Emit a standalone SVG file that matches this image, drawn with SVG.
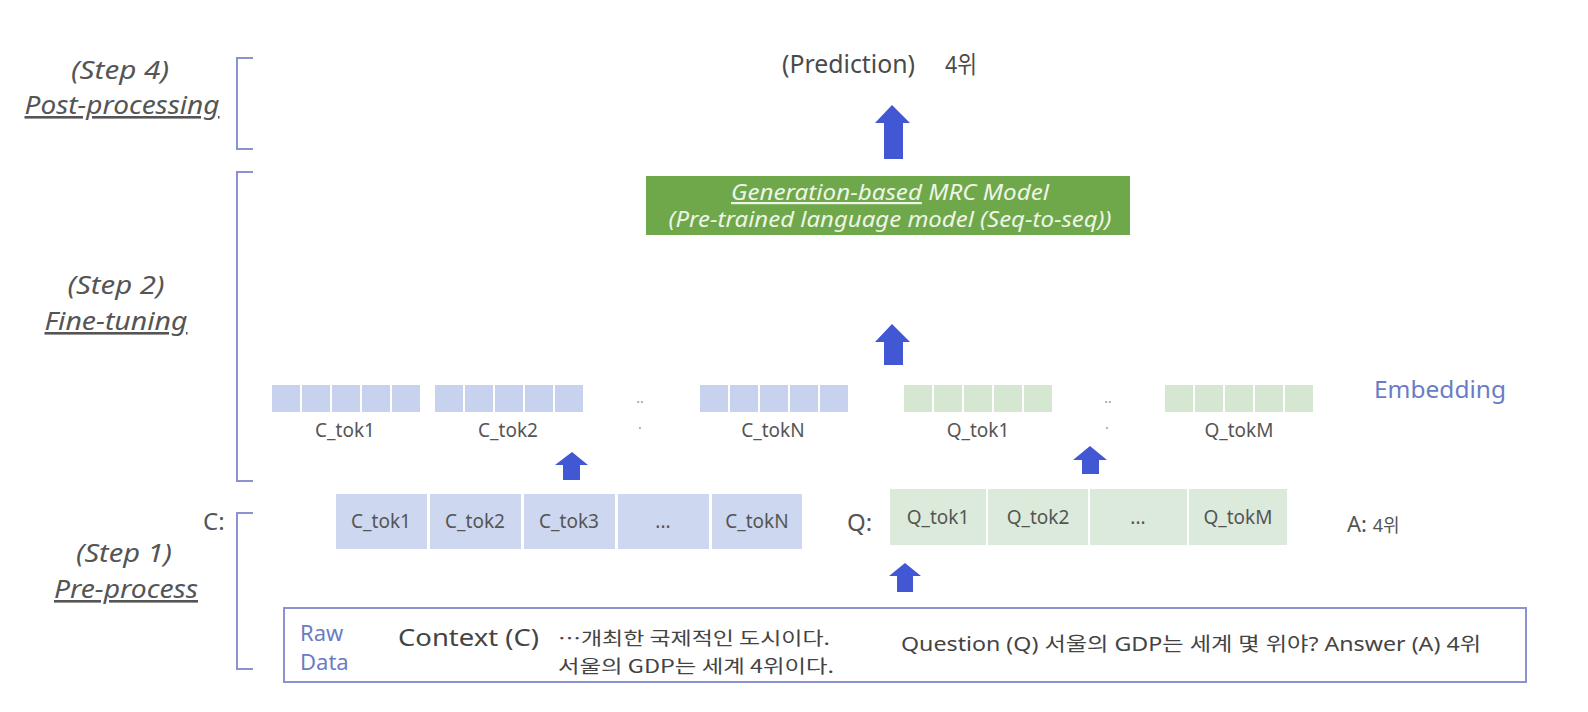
<svg xmlns="http://www.w3.org/2000/svg" width="1588" height="712" viewBox="0 0 1588 712">
<defs>
<style>
text{font-family:"Noto Sans","Noto Sans CJK KR",sans-serif;}
.step{font-size:26px;font-style:italic;fill:#555;text-anchor:middle;}
.stepu{font-size:26px;font-style:italic;fill:#555;text-anchor:middle;text-decoration:underline;}
.brk{fill:none;stroke:#8a93cf;stroke-width:2;}
.arrow{fill:#4157d3;}
.ce{fill:#c7d2ef;}
.qe{fill:#d5e7d0;}
.cc{fill:#cdd7f0;}
.qc{fill:#dbeadb;}
.tok{font-size:19px;fill:#555;text-anchor:middle;}
.lbl{font-size:19px;fill:#555;text-anchor:middle;}
.dot{font-size:14px;fill:#999;text-anchor:middle;}
.blue{font-size:22px;fill:#6b7cc6;}
.kr{font-size:18px;fill:#444;font-family:"Noto Sans CJK KR","Noto Sans",sans-serif;}
</style>
</defs>
<rect width="1588" height="712" fill="#fff"/>

<g id="step4">
<path class="brk" d="M253 58 H237 V149 H253"/>
<text class="step" x="120" y="79" textLength="98" lengthAdjust="spacingAndGlyphs">(Step 4)</text>
<text class="stepu" x="122" y="114" textLength="195" lengthAdjust="spacingAndGlyphs">Post-processing</text>
</g>
<g id="step2">
<path class="brk" d="M253 172 H237 V481 H253"/>
<text class="step" x="116" y="294" textLength="97" lengthAdjust="spacingAndGlyphs">(Step 2)</text>
<text class="stepu" x="116" y="330" textLength="143" lengthAdjust="spacingAndGlyphs">Fine-tuning</text>
</g>
<g id="step1">
<path class="brk" d="M253 513 H237 V669 H253"/>
<text class="step" x="124" y="562" textLength="96" lengthAdjust="spacingAndGlyphs">(Step 1)</text>
<text class="stepu" x="126" y="598" textLength="144" lengthAdjust="spacingAndGlyphs">Pre-process</text>
</g>

<g id="prediction">
<text x="782" y="73" font-size="25" fill="#4a4a4a" textLength="133" lengthAdjust="spacingAndGlyphs">(Prediction)</text>
<text x="945" y="73" font-size="24" fill="#4a4a4a" textLength="32" lengthAdjust="spacingAndGlyphs">4위</text>
</g>

<g id="model">
<rect x="646" y="176" width="484" height="59" fill="#6fa84a"/>
<text x="890" y="200" font-size="22" font-style="italic" fill="#eef5e8" text-anchor="middle" textLength="318" lengthAdjust="spacingAndGlyphs"><tspan text-decoration="underline">Generation-based</tspan> MRC Model</text>
<text x="890" y="227" font-size="22" font-style="italic" fill="#eef5e8" text-anchor="middle" textLength="443" lengthAdjust="spacingAndGlyphs">(Pre-trained language model (Seq-to-seq))</text>
</g>

<g id="embedding">
<g id="emb-c1">
<rect class="ce" x="272" y="385" width="28" height="27"/><rect class="ce" x="302" y="385" width="28" height="27"/><rect class="ce" x="332" y="385" width="28" height="27"/><rect class="ce" x="362" y="385" width="28" height="27"/><rect class="ce" x="392" y="385" width="28" height="27"/>
<text class="lbl" x="345" y="437">C_tok1</text>
</g>
<g id="emb-c2">
<rect class="ce" x="435" y="385" width="28" height="27"/><rect class="ce" x="465" y="385" width="28" height="27"/><rect class="ce" x="495" y="385" width="28" height="27"/><rect class="ce" x="525" y="385" width="28" height="27"/><rect class="ce" x="555" y="385" width="28" height="27"/>
<text class="lbl" x="508" y="437">C_tok2</text>
</g>
<text class="dot" x="640" y="403">..</text>
<text class="dot" x="640" y="429">.</text>
<g id="emb-cn">
<rect class="ce" x="700" y="385" width="28" height="27"/><rect class="ce" x="730" y="385" width="28" height="27"/><rect class="ce" x="760" y="385" width="28" height="27"/><rect class="ce" x="790" y="385" width="28" height="27"/><rect class="ce" x="820" y="385" width="28" height="27"/>
<text class="lbl" x="773" y="437">C_tokN</text>
</g>
<g id="emb-q1">
<rect class="qe" x="904" y="385" width="28" height="27"/><rect class="qe" x="934" y="385" width="28" height="27"/><rect class="qe" x="964" y="385" width="28" height="27"/><rect class="qe" x="994" y="385" width="28" height="27"/><rect class="qe" x="1024" y="385" width="28" height="27"/>
<text class="lbl" x="978" y="437">Q_tok1</text>
</g>
<text class="dot" x="1108" y="403">..</text>
<text class="dot" x="1107" y="429">.</text>
<g id="emb-qm">
<rect class="qe" x="1165" y="385" width="28" height="27"/><rect class="qe" x="1195" y="385" width="28" height="27"/><rect class="qe" x="1225" y="385" width="28" height="27"/><rect class="qe" x="1255" y="385" width="28" height="27"/><rect class="qe" x="1285" y="385" width="28" height="27"/>
<text class="lbl" x="1239" y="437">Q_tokM</text>
</g>
<text x="1374" y="398" font-size="23" fill="#6b7cc6" textLength="132" lengthAdjust="spacingAndGlyphs">Embedding</text>
</g>

<g id="c-tokens">
<text x="203" y="530" font-size="24" fill="#555">C:</text>
<rect class="cc" x="336" y="494" width="91" height="55"/>
<rect class="cc" x="430" y="494" width="91" height="55"/>
<rect class="cc" x="524" y="494" width="91" height="55"/>
<rect class="cc" x="618" y="494" width="91" height="55"/>
<rect class="cc" x="712" y="494" width="90" height="55"/>
<text class="tok" x="381" y="528">C_tok1</text>
<text class="tok" x="475" y="528">C_tok2</text>
<text class="tok" x="569" y="528">C_tok3</text>
<text class="tok" x="663" y="528" fill="#888">...</text>
<text class="tok" x="757" y="528">C_tokN</text>
</g>

<g id="q-tokens">
<text x="847" y="531" font-size="24" fill="#555">Q:</text>
<rect class="qc" x="890" y="489" width="96" height="56"/>
<rect class="qc" x="988" y="489" width="100" height="56"/>
<rect class="qc" x="1090" y="489" width="97" height="56"/>
<rect class="qc" x="1189" y="489" width="98" height="56"/>
<text class="tok" x="938" y="524">Q_tok1</text>
<text class="tok" x="1038" y="524">Q_tok2</text>
<text class="tok" x="1138" y="524" fill="#888">...</text>
<text class="tok" x="1238" y="524">Q_tokM</text>
</g>

<g id="answer">
<text x="1347" y="532" font-size="22" fill="#555">A: <tspan font-size="18">4위</tspan></text>
</g>

<g id="raw-data">
<rect x="284" y="608" width="1242" height="74" fill="#fff" stroke="#8a93cf" stroke-width="2"/>
<text class="blue" x="300" y="641">Raw</text>
<text class="blue" x="300" y="670">Data</text>
<text x="398" y="646" font-size="24" fill="#444" textLength="141" lengthAdjust="spacingAndGlyphs">Context (C)</text>
<text class="kr" x="558" y="645" textLength="272" lengthAdjust="spacingAndGlyphs">…개최한 국제적인 도시이다.</text>
<text class="kr" x="558" y="673" textLength="276" lengthAdjust="spacingAndGlyphs">서울의 GDP는 세계 4위이다.</text>
<text x="901" y="651" font-size="19" fill="#444" textLength="580" lengthAdjust="spacingAndGlyphs">Question (Q) 서울의 GDP는 세계 몇 위야? Answer (A) 4위</text>
</g>

<g id="connectors">
<path class="arrow" d="M892 105 L910 123 L903 123 L903 159 L884 159 L884 123 L875 123 Z"/>
<path class="arrow" d="M892 324 L910 342 L903 342 L903 365 L884 365 L884 342 L875 342 Z"/>
<path class="arrow" d="M572 452 L588 465 L580 465 L580 480 L563 480 L563 465 L555 465 Z"/>
<path class="arrow" d="M1090 446 L1107 460 L1099 460 L1099 474 L1082 474 L1082 460 L1073 460 Z"/>
<path class="arrow" d="M905 563 L921 576 L913 576 L913 592 L897 592 L897 576 L889 576 Z"/>
</g>
</svg>
